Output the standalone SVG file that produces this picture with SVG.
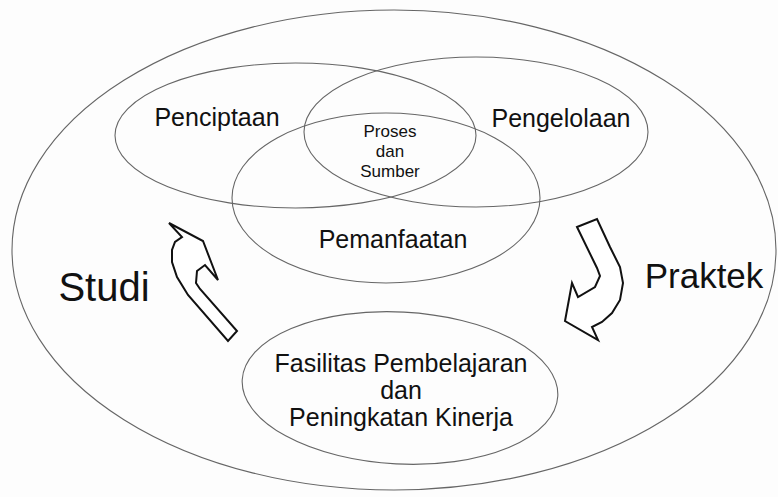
<svg xmlns="http://www.w3.org/2000/svg" width="778" height="497" viewBox="0 0 778 497">
<style>
.ell{fill:none;stroke:#666;stroke-width:1.1}
.t{font-family:"Liberation Sans",Arial,sans-serif;fill:#111;text-anchor:middle}
.arr{fill:#fff;stroke:#111;stroke-width:2;stroke-linejoin:miter}
</style>
<rect width="778" height="497" fill="#fdfdfd"/>
<g id="outer">
<ellipse class="ell" cx="394" cy="250" rx="382" ry="240"/>
</g>
<g id="penciptaan">
<ellipse class="ell" cx="295.5" cy="135.5" rx="180.5" ry="72.5"/>
<text class="t" x="217" y="126" font-size="25">Penciptaan</text>
</g>
<g id="pengelolaan">
<ellipse class="ell" cx="476" cy="132" rx="172" ry="75"/>
<text class="t" x="561" y="127" font-size="25">Pengelolaan</text>
</g>
<g id="pemanfaatan">
<ellipse class="ell" cx="386" cy="198" rx="154" ry="85"/>
<text class="t" x="393" y="248" font-size="25">Pemanfaatan</text>
</g>
<g id="proses-dan-sumber">
<text class="t" x="390" y="137" font-size="17">Proses</text>
<text class="t" x="390" y="157" font-size="17">dan</text>
<text class="t" x="390" y="177" font-size="17">Sumber</text>
</g>
<g id="fasilitas">
<ellipse class="ell" cx="400" cy="388" rx="158" ry="76" transform="rotate(3 400 388)"/>
<text class="t" x="401" y="372" font-size="25">Fasilitas Pembelajaran</text>
<text class="t" x="401" y="399" font-size="25">dan</text>
<text class="t" x="401" y="426" font-size="25">Peningkatan Kinerja</text>
</g>
<g id="studi">
<text class="t" x="104" y="301" font-size="40">Studi</text>
</g>
<g id="praktek">
<text class="t" x="704" y="288" font-size="35">Praktek</text>
</g>
<g id="connectors">
<path class="arr" d="M169,223 L203,241 L218,280 L205,265 L197,271 L196,283 L200,289 L237,331 L228,341 L188,295 L177,277 L172,262 L172,250 L175,242 L182,237 Z"/>
<path class="arr" d="M577,227 L597,219 L610,247 L620,267 L623,283 L620,300 L612,313 L602,322 L592,327 L598,340 L565,321 L572,283 L578,297 L595,287 L600,276 L597,268 Z"/>
</g>
</svg>
